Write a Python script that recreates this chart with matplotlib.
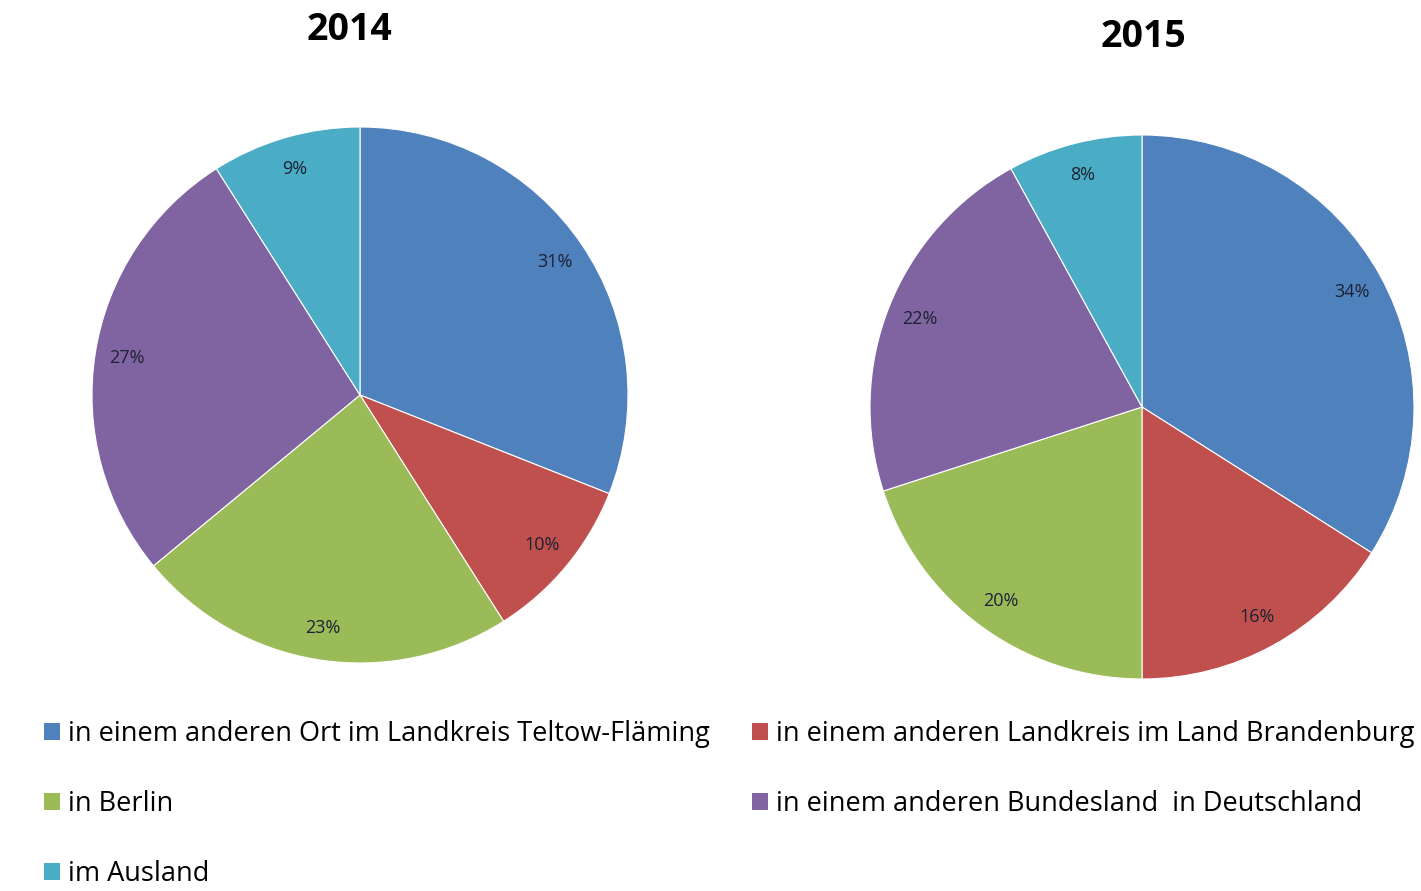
import matplotlib.pyplot as plt
from matplotlib.patches import Patch

# Wohnort-Anteile, zwei Jahre
categories = [
    "in einem anderen Ort im Landkreis Teltow-Fläming",
    "in einem anderen Landkreis im Land Brandenburg",
    "in Berlin",
    "in einem anderen Bundesland  in Deutschland",
    "im Ausland",
]
shares_2014 = [31, 10, 23, 27, 9]
shares_2015 = [34, 16, 20, 22, 8]
years = ["2014", "2015"]
colors = ["#4F81BD", "#C0504D", "#9BBB59", "#8064A2", "#4BACC6"]

W, H = 1421, 891
fig = plt.figure(figsize=(W / 100, H / 100), dpi=100)
ax = fig.add_axes([0, 0, 1, 1])
ax.set_xlim(0, W)
ax.set_ylim(0, H)
ax.set_aspect("equal")
ax.axis("off")

pies = [
    (shares_2014, (360, H - 395), 268, (349, H - 30)),
    (shares_2015, (1142, H - 407), 272, (1143, H - 37)),
]
for (vals, center, r, tpos), year in zip(pies, years):
    wedges, texts, autotexts = ax.pie(
        vals, colors=colors, startangle=90, counterclock=False,
        center=center, radius=r, autopct="%d%%", pctdistance=0.88,
        wedgeprops=dict(edgecolor="white", linewidth=0.8),
        textprops=dict(fontsize=13, color="#1c2233", family="Open Sans"),
    )
    ax.text(tpos[0], tpos[1], year, ha="center", va="center",
            fontsize=27, fontweight="bold", family="Open Sans")
ax.set_xlim(0, W)
ax.set_ylim(0, H)

# legend: left column blue/green/teal, right column red/purple
order = [0, 2, 4, 1, 3]
handles = [Patch(facecolor=colors[i], label=categories[i]) for i in order]
leg = fig.legend(handles=handles, ncol=2, loc="upper left",
                 bbox_to_anchor=(33 / W, 1 - 709 / H), frameon=False,
                 prop=dict(family="Open Sans", size=19.5),
                 handlelength=0.6, handleheight=0.6, handletextpad=0.3,
                 labelspacing=1.55, columnspacing=1.55, borderaxespad=0)

fig.savefig("out.png", dpi=100, facecolor="white")
